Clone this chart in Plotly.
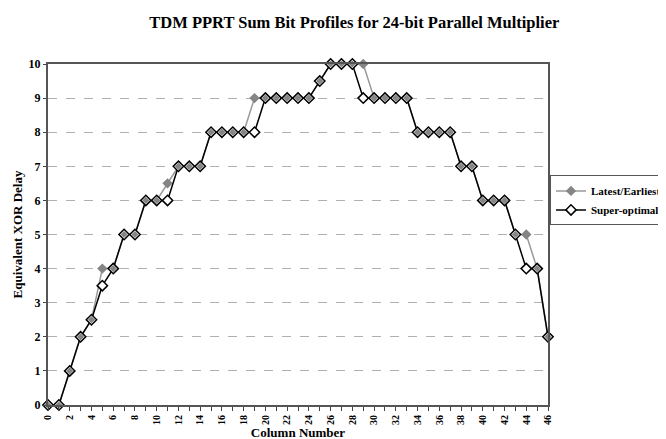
import plotly.graph_objects as go

columns = list(range(0, 47))
latest_earliest = [0, 0, 1, 2, 2.5, 4, 4, 5, 5, 6, 6, 6.5, 7, 7, 7, 8, 8, 8, 8, 9,
                   9, 9, 9, 9, 9, 9.5, 10, 10, 10, 10, 9, 9, 9, 9, 8, 8, 8, 8, 7, 7,
                   6, 6, 6, 5, 5, 4, 2]
super_optimal = [0, 0, 1, 2, 2.5, 3.5, 4, 5, 5, 6, 6, 6, 7, 7, 7, 8, 8, 8, 8, 8,
                 9, 9, 9, 9, 9, 9.5, 10, 10, 10, 9, 9, 9, 9, 9, 8, 8, 8, 8, 7, 7,
                 6, 6, 6, 5, 4, 4, 2]
x_ticks = list(range(0, 47, 2))
y_ticks = list(range(0, 11))

FONT = "Liberation Serif"
GRAY = "#858585"

fig = go.Figure()
fig.add_trace(go.Scatter(
    x=columns, y=latest_earliest, mode="lines+markers", name="<b>Latest/Earliest</b>",
    line=dict(color="#9a9a9a", width=1.5),
    marker=dict(symbol="diamond", size=8, color=GRAY, line=dict(width=0)),
    cliponaxis=False,
))
fig.add_trace(go.Scatter(
    x=columns, y=super_optimal, mode="lines+markers", name="<b>Super-optimal</b>",
    line=dict(color="black", width=1.5),
    marker=dict(symbol="diamond", size=8, color="white", line=dict(color="black", width=1.5)),
    cliponaxis=False,
))
fig.add_trace(go.Scatter(
    x=columns, y=latest_earliest, mode="markers", showlegend=False,
    marker=dict(symbol="diamond", size=5.5, color=GRAY, line=dict(width=0)),
    cliponaxis=False, hoverinfo="skip",
))

fig.update_layout(
    width=666, height=439,
    margin=dict(l=40, r=126, t=56, b=42, autoexpand=False),
    paper_bgcolor="white", plot_bgcolor="white",
    font=dict(family=FONT, color="black", size=12),
    title=dict(text="<b>TDM PPRT Sum Bit Profiles for 24-bit Parallel Multiplier</b>",
               x=0.52, xref="container", xanchor="center", y=0.968, yanchor="middle",
               font=dict(family=FONT, size=16.5)),
    showlegend=True,
    legend=dict(x=1.004, xanchor="left", y=0.6, yanchor="middle",
                bordercolor="#555555", borderwidth=1, bgcolor="white",
                font=dict(family=FONT, size=11), tracegroupgap=0,
                itemwidth=30),
)
fig.update_xaxes(
    range=[0, 46], tickvals=x_ticks, ticktext=[f"<b>{v}</b>" for v in x_ticks],
    tickangle=-90, tickfont=dict(size=10),
    ticks="outside", ticklen=4, tickcolor="#444444",
    minor=dict(dtick=1, ticks="outside", ticklen=4, tickcolor="#444444"),
    showgrid=False, zeroline=False, automargin=False,
    showline=True, linecolor="#555555", linewidth=2, mirror=True,
    title=dict(text="<b>Column Number</b>", font=dict(size=13), standoff=0),
)
fig.update_yaxes(
    range=[0, 10], tickvals=y_ticks, ticktext=[f"<b>{v}</b>" for v in y_ticks],
    tickfont=dict(size=12), ticks="outside", ticklen=3, tickcolor="#444444",
    showgrid=True, gridcolor="#b0b0b0", griddash="dash", gridwidth=1,
    zeroline=False, automargin=False,
    showline=True, linecolor="#555555", linewidth=2, mirror=True,
    title=dict(text="<b>Equivalent XOR Delay</b>", font=dict(size=13), standoff=3),
)

fig.write_html("out.html")
